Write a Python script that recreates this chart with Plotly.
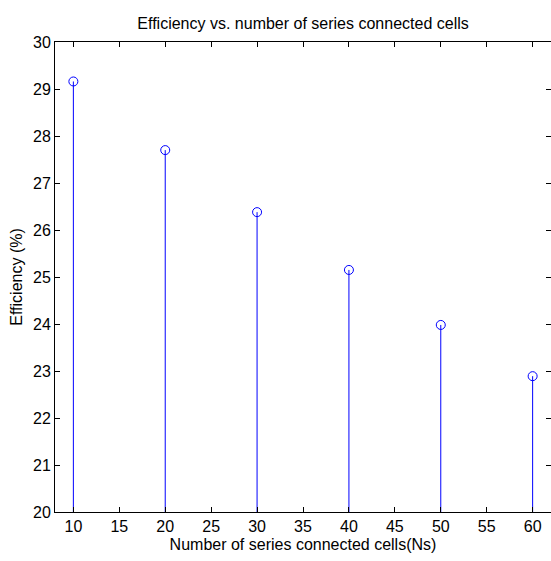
import plotly.graph_objects as go

cells = [10, 20, 30, 40, 50, 60]
efficiency = [29.16, 27.70, 26.38, 25.15, 23.98, 22.89]
baseline = 20
x_ticks = [10, 15, 20, 25, 30, 35, 40, 45, 50, 55, 60]
y_ticks = [20, 21, 22, 23, 24, 25, 26, 27, 28, 29, 30]

FONT = "Liberation Sans Narrow, Arial Narrow, Liberation Sans, Arial, sans-serif"

stem_x, stem_y = [], []
for c, e in zip(cells, efficiency):
    stem_x += [c, c, None]
    stem_y += [baseline, e, None]

fig = go.Figure()
fig.add_trace(go.Scatter(x=stem_x, y=stem_y, mode="lines",
                         line=dict(color="#0000ff", width=1), hoverinfo="skip",
                         showlegend=False))
fig.add_trace(go.Scatter(x=cells, y=efficiency, mode="markers",
                         marker=dict(symbol="circle-open", size=9, color="#0000ff",
                                     line=dict(width=1, color="#0000ff")),
                         showlegend=False))

axis_common = dict(showgrid=False, zeroline=False, showline=True, linecolor="black",
                   linewidth=1, mirror="ticks", ticks="inside", ticklen=5,
                   tickcolor="black", tickwidth=1,
                   tickfont=dict(family=FONT, size=16, color="black"))

fig.update_xaxes(range=[8, 62], tickvals=x_ticks,
                 title=dict(text="Number of series connected cells(Ns)",
                            font=dict(family=FONT, size=16, color="black"), standoff=4),
                 **axis_common)
fig.update_yaxes(range=[20, 30], tickvals=y_ticks,
                 title=dict(text="Efficiency (%)",
                            font=dict(family=FONT, size=16, color="black"), standoff=6),
                 **axis_common)

fig.update_layout(
    width=551, height=561,
    margin=dict(l=55, r=0, t=42, b=49),
    plot_bgcolor="white", paper_bgcolor="white",
    title=dict(text="Efficiency vs. number of series connected cells",
               font=dict(family=FONT, size=16, color="black"),
               x=0.55, xanchor="center", y=1 - 23 / 561, yanchor="middle"),
)

fig.write_html("out.html")
